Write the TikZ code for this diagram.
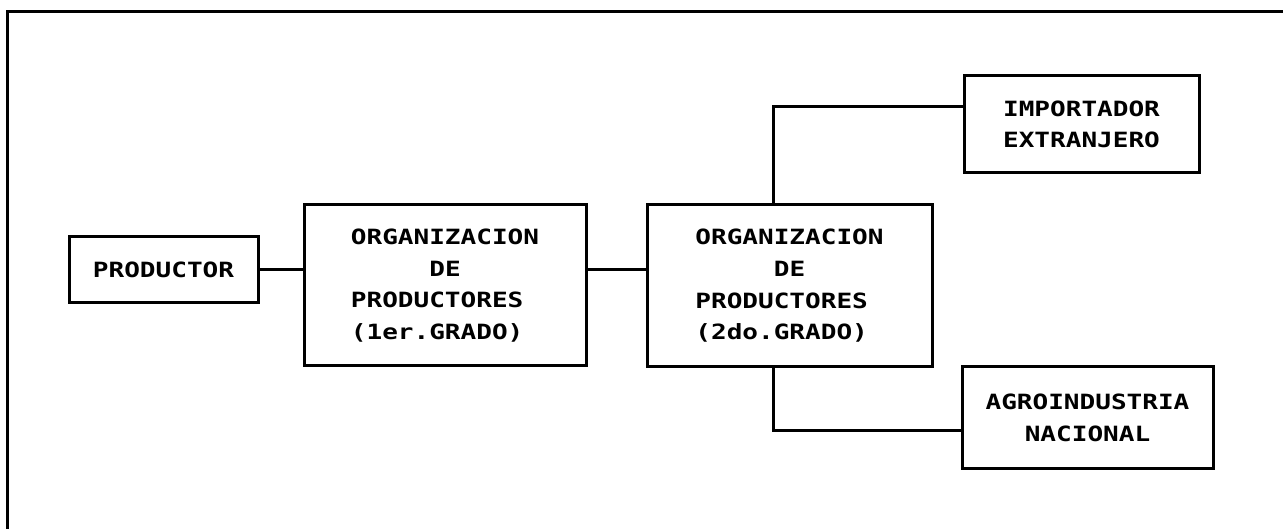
\documentclass[tikz,border=0pt]{standalone}
\usepackage{fontspec}
\newfontfamily\boxfont{DejaVu Sans Mono}[FakeStretch=1.24]
\usetikzlibrary{positioning}

\begin{document}
\begin{tikzpicture}[x=1pt, y=1pt, line width=3pt,
  box/.style={draw, inner sep=0pt, font=\boxfont\bfseries\fontsize{21}{31.7}\selectfont}]

\useasboundingbox (0,0) rectangle (1283,529);
\draw (7,0) -- (7,517) -- (1283,517);

\node[box, minimum width=189, minimum height=66] (prod) at (163.5,259) {PRODUCTOR};
\node[box, minimum width=282, minimum height=161, align=left] (org1) at (445,243.5)
  {ORGANIZACION\\\phantom{XXXXX}DE\\PRODUCTORES\\(1er.GRADO)};
\node[box, minimum width=285, minimum height=162, align=left] (org2) at (789.5,243)
  {ORGANIZACION\\\phantom{XXXXX}DE\\PRODUCTORES\\(2do.GRADO)};
\node[box, minimum width=235, minimum height=97, align=center] (imp) at (1081.5,404.5)
  {IMPORTADOR\\EXTRANJERO};
\node[box, minimum width=251, minimum height=102, align=center] (agro) at (1087.5,111)
  {AGROINDUSTRIA\\NACIONAL};

\coordinate (up) at (773,422);
\coordinate (down) at (773,98);

\draw (prod.east) -- (prod.east -| org1.west);
\draw (org1.east |- prod.east) -- (org2.west |- prod.east);
\draw (up |- org2.north) -- (up) -- (up -| imp.west);
\draw (down |- org2.south) -- (down) -- (down -| agro.west);

\end{tikzpicture}
\end{document}
